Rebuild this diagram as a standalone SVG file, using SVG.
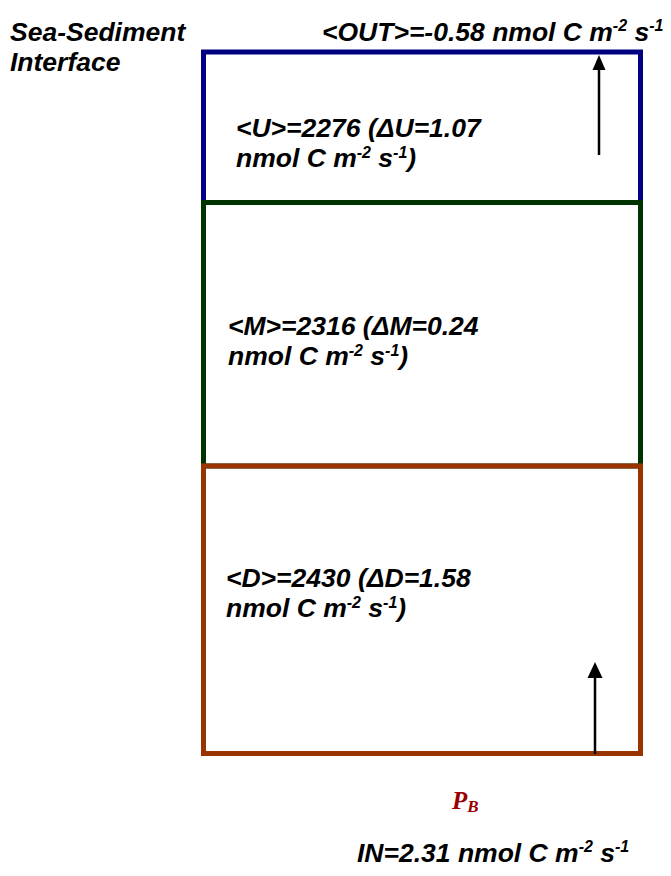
<svg xmlns="http://www.w3.org/2000/svg" width="671" height="876" viewBox="0 0 671 876">
<style>
.t{font-family:"Liberation Sans",Arial,sans-serif;font-weight:bold;font-style:italic;font-size:26.5px;fill:#000}
.sup{font-size:16px}
.box{fill:none;stroke-width:5}
.pb{font-family:"Liberation Serif","Times New Roman",serif;font-weight:bold;font-style:italic;fill:#990000}
.head{fill:#000;stroke:none}
</style>
<rect width="671" height="876" fill="#fff"/>
<g id="label-interface">
<text class="t" x="10" y="41">Sea-Sediment<tspan x="10" dy="30">Interface</tspan></text>
</g>
<g id="label-out">
<text class="t" x="322" y="41">&lt;OUT&gt;=-0.58 nmol C m<tspan class="sup" dy="-10">-2</tspan><tspan dy="10"> s</tspan><tspan class="sup" dy="-10">-1</tspan></text>
</g>
<g id="node-U">
<rect class="box" x="203.5" y="52" width="437" height="150.5" stroke="#000080"/>
<text class="t" x="236" y="137">&lt;U&gt;=2276 (ΔU=1.07<tspan x="236" dy="30">nmol C m</tspan><tspan class="sup" dy="-9">-2</tspan><tspan dy="9"> s</tspan><tspan class="sup" dy="-9">-1</tspan><tspan dy="9">)</tspan></text>
</g>
<g id="node-M">
<rect class="box" x="203.5" y="202.5" width="437" height="263.5" stroke="#003300"/>
<text class="t" x="228" y="335">&lt;M&gt;=2316 (ΔM=0.24<tspan x="228" dy="30">nmol C m</tspan><tspan class="sup" dy="-9">-2</tspan><tspan dy="9"> s</tspan><tspan class="sup" dy="-9">-1</tspan><tspan dy="9">)</tspan></text>
</g>
<g id="node-D">
<rect class="box" x="203.5" y="466" width="437" height="287.5" stroke="#993300"/>
<text class="t" x="226" y="587">&lt;D&gt;=2430 (ΔD=1.58<tspan x="226" dy="30">nmol C m</tspan><tspan class="sup" dy="-9">-2</tspan><tspan dy="9"> s</tspan><tspan class="sup" dy="-9">-1</tspan><tspan dy="9">)</tspan></text>
</g>
<g id="connectors">
<line x1="599" y1="155" x2="599" y2="68" stroke="#000" stroke-width="2.5"/>
<polygon class="head" points="599,55 605.5,70 592.5,70"/>
<line x1="595" y1="754" x2="595" y2="676" stroke="#000" stroke-width="2.5"/>
<polygon class="head" points="595,662 602.5,678 587.5,678"/>
</g>
<g id="label-pb">
<text class="pb" x="452" y="809" font-size="25">P<tspan font-size="17" dy="3">B</tspan></text>
</g>
<g id="label-in">
<text class="t" x="357" y="862">IN=2.31 nmol C m<tspan class="sup" dy="-10">-2</tspan><tspan dy="10"> s</tspan><tspan class="sup" dy="-10">-1</tspan></text>
</g>
</svg>
